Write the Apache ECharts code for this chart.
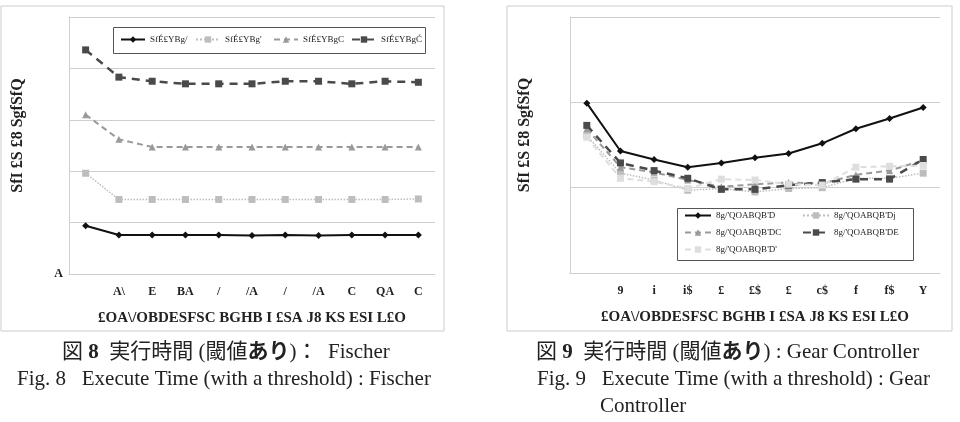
<!DOCTYPE html>
<html>
<head>
<meta charset="utf-8">
<script src="https://cdn.jsdelivr.net/npm/echarts@6/dist/echarts.min.js"></script>
<style>
  html, body { margin: 0; padding: 0; background: #fff; }
  #main { width: 960px; height: 422px; }
</style>
</head>
<body>
<div id="main"></div>
<script>
// 図8 Fischer
const catsL = ['', 'A\\', 'E', 'BA', '/', '/A', '/', '/A', 'C', 'QA', 'C']
const namesL = ['SfÉ£YBg/', "SfÉ£YBg'", 'SfÉ£YBgC', 'SfÉ£YBgĆ']
const l1 = [0.94, 0.76, 0.76, 0.76, 0.76, 0.75, 0.76, 0.75, 0.76, 0.76, 0.76]
const l2 = [1.96, 1.45, 1.45, 1.45, 1.45, 1.45, 1.45, 1.45, 1.45, 1.45, 1.46]
const l3 = [3.10, 2.62, 2.47, 2.47, 2.47, 2.47, 2.47, 2.47, 2.47, 2.47, 2.47]
const l4 = [4.36, 3.83, 3.75, 3.70, 3.70, 3.70, 3.75, 3.75, 3.70, 3.75, 3.73]
const yTicksL = ['A', '', '', '', '', '']

// 図9 Gear Controller
const catsR = ['', '9', 'i', 'i$', '£', '£$', '£', 'c$', 'f', 'f$', 'Y']
const namesR = ["8g/'QOABQB'D", "8g/'QOABQB'Dj", "8g/'QOABQB'DC", "8g/'QOABQB'DE", "8g/'QOABQB'D'"]
const r1 = [1.99, 1.43, 1.33, 1.24, 1.29, 1.35, 1.40, 1.52, 1.69, 1.81, 1.94]
const r2 = [1.61, 1.17, 1.09, 0.97, 0.99, 0.95, 0.99, 1.00, 1.11, 1.11, 1.17]
const r3 = [1.69, 1.24, 1.18, 1.09, 1.01, 1.04, 1.06, 1.05, 1.15, 1.20, 1.32]
const r4 = [1.73, 1.29, 1.20, 1.11, 0.98, 0.98, 1.03, 1.06, 1.10, 1.10, 1.33]
const r5 = [1.59, 1.11, 1.07, 0.99, 1.10, 1.09, 1.04, 1.03, 1.24, 1.25, 1.26]

const yName = 'SfI £S £8 SgfSfQ'
const xName = '£OA\\/OBDESFSC BGHB I £SA J8 KS ESI L£O'

const serif = '"Liberation Serif", "DejaVu Serif", serif'
const cjk = '"Liberation Serif", "Noto Sans CJK JP", serif'

// 系列の見た目
const styles = [
  { color: '#111', symbol: 'diamond', size: 7, type: 'solid', width: 2 },
  { color: '#bdbdbd', symbol: 'rect', size: 7, type: 'dotted', width: 1.5 },
  { color: '#9a9a9a', symbol: 'triangle', size: 7, type: [6, 4], width: 2 },
  { color: '#4a4a4a', symbol: 'rect', size: 7, type: [8, 6], width: 2.5 },
  { color: '#dedede', symbol: 'rect', size: 7, type: [6, 4], width: 2 }
]

function line(name, data, s, axis) {
  return {
    name: name,
    type: 'line',
    xAxisIndex: axis,
    yAxisIndex: axis,
    data: data,
    symbol: s.symbol,
    symbolSize: s.size,
    itemStyle: { color: s.color },
    lineStyle: { color: s.color, type: s.type, width: s.width },
    animation: false
  }
}

function xAx(cats, idx) {
  return {
    type: 'category',
    gridIndex: idx,
    data: cats,
    boundaryGap: true,
    axisTick: { show: false },
    axisLine: { lineStyle: { color: '#cfcfcf' } },
    axisLabel: { color: '#222', fontFamily: serif, fontSize: 12, fontWeight: 'bold', margin: 12, interval: 0 },
    name: xName,
    nameLocation: 'middle',
    nameGap: 37,
    nameTextStyle: { color: '#222', fontFamily: serif, fontSize: 15, fontWeight: 'bold' }
  }
}

function yAx(idx, max, gap, ticks) {
  return {
    type: 'value',
    gridIndex: idx,
    min: 0,
    max: max,
    interval: 1,
    axisLine: { show: true, lineStyle: { color: '#cfcfcf' } },
    axisTick: { show: false },
    splitLine: { lineStyle: { color: '#cfcfcf' } },
    axisLabel: {
      show: !!ticks,
      color: '#222',
      fontFamily: serif,
      fontSize: 12,
      fontWeight: 'bold',
      margin: 6,
      formatter: (v) => ticks ? ticks[Math.round(v)] : ''
    },
    name: yName,
    nameLocation: 'middle',
    nameRotate: 90,
    nameGap: gap,
    nameTextStyle: { color: '#222', fontFamily: serif, fontSize: 16, fontWeight: 'bold', padding: [0, 0, 0, 20] }
  }
}

// 凡例は1項目ずつ置く
function leg(name, x, y, w) {
  return {
    data: [name],
    left: x, top: y,
    padding: 0,
    itemWidth: w, itemHeight: 8,
    textStyle: { color: '#222', fontFamily: serif, fontSize: 9 }
  }
}

const chart = echarts.init(document.getElementById('main'))
const option = {
  backgroundColor: '#fff',
  animation: false,
  grid: [
    { left: 69, right: 525, top: 17, bottom: 148 },
    { left: 570, right: 20, top: 17, bottom: 149 }
  ],
  xAxis: [xAx(catsL, 0), xAx(catsR, 1)],
  yAxis: [yAx(0, 5, 43, yTicksL), yAx(1, 3, 37, null)],
  legend: [
    leg(namesL[0], 120, 35, 24),
    leg(namesL[1], 195, 35, 24),
    leg(namesL[2], 273, 35, 24),
    leg(namesL[3], 351, 35, 24),
    leg(namesR[0], 684, 211, 26),
    leg(namesR[1], 802, 211, 26),
    leg(namesR[2], 684, 228, 26),
    leg(namesR[3], 802, 228, 26),
    leg(namesR[4], 684, 245, 26)
  ],
  series: [
    line(namesL[0], l1, styles[0], 0),
    line(namesL[1], l2, styles[1], 0),
    line(namesL[2], l3, styles[2], 0),
    line(namesL[3], l4, styles[3], 0),
    line(namesR[0], r1, styles[0], 1),
    line(namesR[1], r2, styles[1], 1),
    line(namesR[2], r3, styles[2], 1),
    line(namesR[3], r4, styles[3], 1),
    line(namesR[4], r5, styles[4], 1)
  ],
  graphic: [
    { type: 'rect', shape: { x: 1, y: 6, width: 443, height: 325 }, style: { fill: 'none', stroke: '#cccccc', lineWidth: 1 }, z: -1 },
    { type: 'rect', shape: { x: 507, y: 6, width: 445, height: 325 }, style: { fill: 'none', stroke: '#cccccc', lineWidth: 1 }, z: -1 },
    // 凡例の枠
    { type: 'rect', shape: { x: 113.5, y: 27.5, width: 312, height: 26 }, style: { fill: '#fff', stroke: '#555', lineWidth: 1 }, z: 0 },
    { type: 'rect', shape: { x: 677.5, y: 208.5, width: 236, height: 52 }, style: { fill: '#fff', stroke: '#555', lineWidth: 1 }, z: 0 },
    {
      type: 'text', left: 62, top: 342,
      style: {
        text: '図 {b|8}  実行時間 (閾値{b|あり})：  Fischer',
        fill: '#222', font: '21px ' + cjk,
        rich: { b: { fontWeight: 'bold', fontSize: 21, fontFamily: cjk, fill: '#222' } }
      }
    },
    {
      type: 'text', left: 17, top: 369,
      style: { text: 'Fig. 8   Execute Time (with a threshold) : Fischer', fill: '#222', font: '21px ' + serif }
    },
    {
      type: 'text', left: 536, top: 342,
      style: {
        text: '図 {b|9}  実行時間 (閾値{b|あり}) : Gear Controller',
        fill: '#222', font: '21px ' + cjk,
        rich: { b: { fontWeight: 'bold', fontSize: 21, fontFamily: cjk, fill: '#222' } }
      }
    },
    {
      type: 'text', left: 537, top: 369,
      style: { text: 'Fig. 9   Execute Time (with a threshold) : Gear', fill: '#222', font: '21px ' + serif }
    },
    {
      type: 'text', left: 600, top: 396,
      style: { text: 'Controller', fill: '#222', font: '21px ' + serif }
    }
  ]
}
chart.setOption(option)
window.addEventListener('resize', function () {
  chart.resize()
})
</script>
</body>
</html>
